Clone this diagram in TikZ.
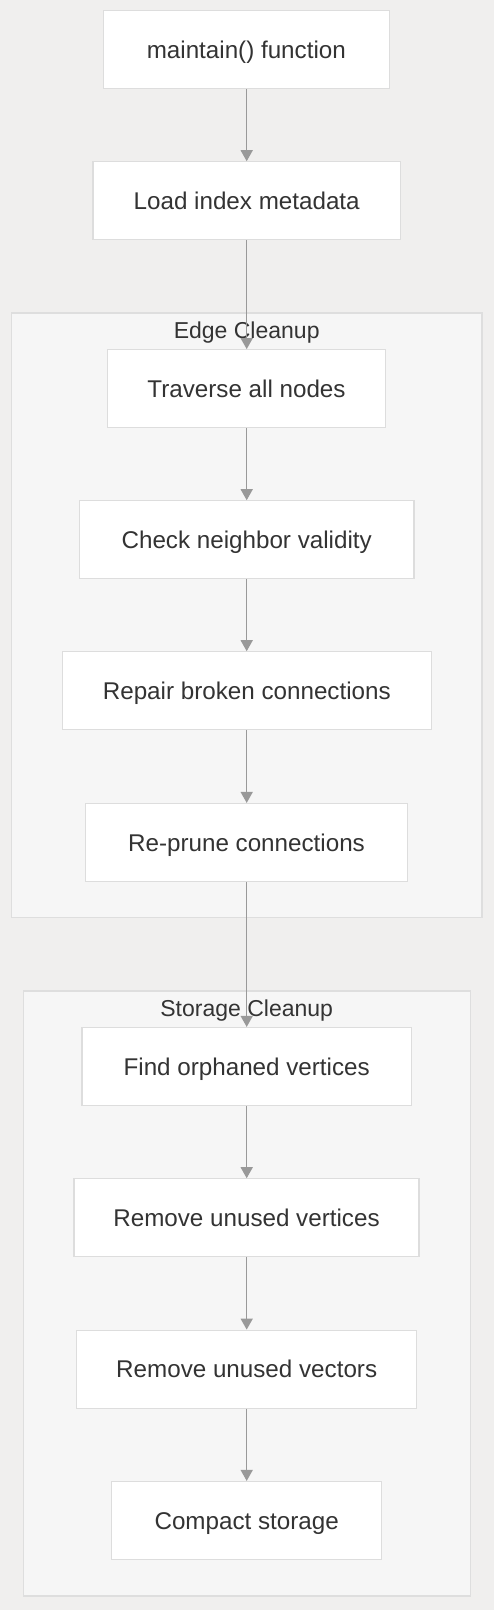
\documentclass[tikz,border=0pt]{standalone}
\usepackage{fontspec}
\setmainfont{Liberation Sans}
\usetikzlibrary{arrows.meta}
\definecolor{bgc}{HTML}{F0EFEE}
\definecolor{clfill}{HTML}{F6F6F6}
\definecolor{clline}{HTML}{DEDEDE}
\definecolor{boxline}{HTML}{DDDDDD}
\definecolor{arrc}{HTML}{999999}
\definecolor{txtc}{HTML}{333333}
\tikzset{
  stepbox/.style={draw=boxline, fill=white, line width=1.2pt, inner sep=0pt,
    minimum height=78pt, text height=17.4pt, text depth=0pt, text=txtc,
    font=\fontsize{24.2}{28}\selectfont},
  clusterbox/.style={draw=clline, fill=clfill, line width=1.2pt, inner sep=0pt},
  clustertitle/.style={text=txtc, font=\fontsize{23}{28}\selectfont, inner sep=0pt,
    text height=16.5pt, text depth=0pt},
  flow/.style={draw=arrc, line width=1.5pt, -{Triangle[width=12pt,length=11pt]}}
}
\begin{document}
\begin{tikzpicture}[x=1pt,y=-1pt]
\useasboundingbox (0,0) rectangle (494,1610);
\fill[bgc] (0,0) rectangle (494,1610);
% clusters
\node[clusterbox, minimum width=470.7pt, minimum height=604.7pt] (edgecl) at (246.65,615.35) {};
\node[clusterbox, minimum width=447pt, minimum height=605pt] (storcl) at (246.8,1293.5) {};
\node[clustertitle] (edgetitle) at (246.7,330.5) {Edge Cleanup};
\node[clustertitle] (stortitle) at (246.7,1008.7) {Storage Cleanup};
% nodes
\node[stepbox, minimum width=286pt] (maint) at (246.3,49.7) {maintain() function};
\node[stepbox, minimum width=307.3pt] (load) at (246.7,200.8) {Load index metadata};
\node[stepbox, minimum width=278.4pt] (trav) at (246.5,388.7) {Traverse all nodes};
\node[stepbox, minimum width=334.7pt] (check) at (246.7,539.8) {Check neighbor validity};
\node[stepbox, minimum width=369pt] (repair) at (246.8,690.8) {Repair broken connections};
\node[stepbox, minimum width=321.6pt] (reprune) at (246.5,842.5) {Re-prune connections};
\node[stepbox, minimum width=329.3pt] (find) at (246.7,1066.5) {Find orphaned vertices};
\node[stepbox, minimum width=345pt] (remvert) at (246.5,1217.8) {Remove unused vertices};
\node[stepbox, minimum width=340pt] (remvec) at (246.7,1369.2) {Remove unused vectors};
\node[stepbox, minimum width=270pt] (compact) at (246.7,1520.5) {Compact storage};
% connectors
\draw[flow] (maint.south -| 246.7,0) -- (load.north -| 246.7,0);
\draw[flow] (load.south -| 246.7,0) -- (trav.north -| 246.7,0);
\draw[flow] (trav.south -| 246.7,0) -- (check.north -| 246.7,0);
\draw[flow] (check.south -| 246.7,0) -- (repair.north -| 246.7,0);
\draw[flow] (repair.south -| 246.7,0) -- (reprune.north -| 246.7,0);
\draw[flow] (reprune.south -| 246.7,0) -- (find.north -| 246.7,0);
\draw[flow] (find.south -| 246.7,0) -- (remvert.north -| 246.7,0);
\draw[flow] (remvert.south -| 246.7,0) -- (remvec.north -| 246.7,0);
\draw[flow] (remvec.south -| 246.7,0) -- (compact.north -| 246.7,0);
\end{tikzpicture}
\end{document}
